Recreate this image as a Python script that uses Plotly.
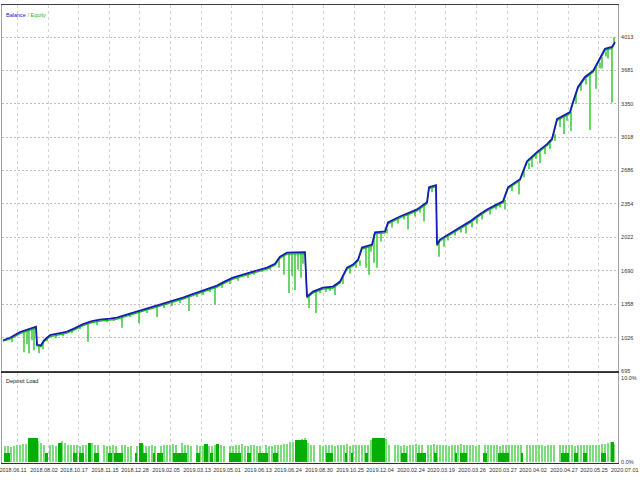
import plotly.graph_objects as go

# Balance curve (x = deal number, y = account value)
bal_deal = [1, 8, 18, 28, 34, 35, 39, 42, 48, 58, 65, 73, 81, 90, 98, 108, 115, 123, 131, 140,
            148, 156, 165, 173, 181, 190, 198, 206, 215, 223, 231, 241, 253, 265, 273, 278, 285, 294, 303, 305,
            311, 321, 331, 338, 343, 345, 351, 356, 360, 370, 373, 383, 386, 398, 408, 415, 425, 427, 434, 435,
            438, 451, 460, 468, 476, 485, 493, 501, 506, 512, 518, 525, 535, 545, 550, 555, 563, 568, 571, 576,
            583, 591, 596, 603, 610, 613]
balance = [1000, 1025, 1080, 1118, 1135, 955, 950, 1000, 1050, 1070, 1085, 1120, 1160, 1190, 1205, 1215, 1225, 1250, 1273, 1300,
           1323, 1350, 1373, 1395, 1423, 1455, 1483, 1513, 1543, 1585, 1622, 1652, 1690, 1722, 1760, 1830, 1870, 1875, 1875, 1433,
           1483, 1523, 1533, 1583, 1690, 1722, 1752, 1800, 1921, 1951, 2071, 2081, 2170, 2230, 2270, 2300, 2370, 2520, 2540, 1951,
           2000, 2081, 2130, 2181, 2240, 2300, 2340, 2380, 2520, 2560, 2600, 2779, 2869, 2948, 3000, 3197, 3240, 3267, 3367, 3516,
           3616, 3676, 3766, 3895, 3915, 3965]
equity = [990, 1010, 1065, 1100, 1120, 945, 935, 985, 1035, 1055, 1070, 1105, 1145, 1175, 1190, 1200, 1210, 1235, 1258, 1285,
          1308, 1335, 1358, 1380, 1408, 1440, 1468, 1498, 1528, 1570, 1607, 1637, 1675, 1707, 1745, 1815, 1855, 1860, 1860, 1420,
          1468, 1508, 1518, 1568, 1675, 1707, 1737, 1785, 1906, 1936, 2056, 2066, 2155, 2215, 2255, 2285, 2355, 2505, 2525, 1936,
          1985, 2066, 2115, 2166, 2225, 2285, 2325, 2365, 2505, 2545, 2585, 2764, 2854, 2933, 2985, 3182, 3225, 3252, 3352, 3501,
          3601, 3661, 3751, 3880, 3900, 3950]

# equity drawdown needles: deal, value before, value at the extreme
dip_deal = [10, 22, 25, 27, 30, 32, 37, 41, 45, 54, 61, 86, 95, 120, 137, 155, 170, 187, 201, 213,
            236, 260, 277, 282, 287, 290, 293, 296, 299, 301, 307, 314, 324, 333, 341, 348, 354, 364, 367, 369,
            372, 375, 379, 390, 396, 406, 413, 422, 430, 437, 442, 453, 464, 480, 488, 503, 510, 517, 522, 530,
            538, 548, 558, 562, 569, 574, 579, 588, 594, 600, 606, 610, 612]
dip_from = [1030, 1090, 1100, 1108, 1115, 1122, 948, 985, 1030, 1062, 1075, 1175, 1195, 1240, 1285, 1340, 1385, 1445, 1495, 1535,
            1635, 1705, 1805, 1855, 1865, 1865, 1868, 1868, 1868, 1868, 1450, 1495, 1520, 1555, 1640, 1735, 1785, 1930, 1935, 1940,
            2055, 2070, 2072, 2185, 2220, 2260, 2290, 2355, 2520, 1975, 2010, 2085, 2140, 2255, 2315, 2395, 2545, 2590, 2690, 2815,
            2885, 2985, 3205, 3225, 3270, 3440, 3555, 3645, 3715, 3815, 3895, 3910, 3960]
dip_to = [980, 880, 960, 870, 1000, 900, 870, 910, 990, 1020, 1040, 985, 1150, 1125, 1170, 1230, 1340, 1290, 1450, 1355,
          1590, 1680, 1720, 1650, 1470, 1640, 1500, 1700, 1620, 1760, 1320, 1270, 1480, 1450, 1560, 1660, 1720, 1720, 1650, 1880,
          1770, 1720, 1980, 2120, 2160, 2100, 2230, 2180, 2470, 1830, 1930, 2040, 2060, 2200, 2250, 2300, 2480, 2450, 2620, 2720,
          2760, 2900, 3120, 3050, 3080, 3350, 3480, 3090, 3500, 3700, 3800, 3360, 4010]
# smaller equity dips
minor_deal = [70, 78, 105, 112, 128, 145, 162, 178, 195, 208, 220, 228, 246, 252, 268, 318, 328, 358, 385, 402,
              418, 446, 459, 470, 475, 494, 498, 527, 534, 543, 553, 565, 584, 598, 604]
minor_from = [1105, 1140, 1212, 1218, 1262, 1310, 1365, 1405, 1470, 1520, 1570, 1605, 1665, 1688, 1740, 1510, 1530, 1795, 2110, 2240,
              2320, 2030, 2110, 2175, 2210, 2345, 2360, 2760, 2850, 2920, 3050, 3240, 3600, 3760, 3870]
minor_to = [1070, 1110, 1180, 1190, 1230, 1270, 1320, 1370, 1430, 1480, 1520, 1560, 1620, 1650, 1700, 1470, 1490, 1740, 2060, 2200,
            2270, 1990, 2070, 2120, 2160, 2300, 2320, 2700, 2800, 2850, 2980, 3180, 3540, 3700, 3820]

# deposit load (%) - thin bars every 3 deals
load_step = 3
load = [1.9, 1.9, 1.8, 1.9, 2.0, 2.0, 2.1, 2.1, 2.8, 2.9, 2.7, 2.5, 2.3, 2.0, 0, 2.0, 2.0,
        1.9, 0, 2.5, 2.3, 2.0, 2.0, 2.0, 2.0, 1.9, 2.0, 2.0, 2.1, 2.3, 2.0, 2.0, 0, 2.0,
        1.9, 1.9, 2.0, 1.9, 0, 2.0, 2.0, 1.8, 1.9, 0, 1.9, 2.0, 2.0, 1.9, 1.9, 2.0, 1.9,
        0, 1.9, 2.0, 2.0, 2.0, 2.1, 2.0, 0, 2.3, 2.0, 2.0, 1.9, 0, 2.0, 1.9, 1.9, 2.0,
        1.9, 1.9, 2.0, 2.0, 2.0, 1.9, 0, 1.9, 1.9, 2.0, 2.0, 2.2, 1.9, 1.9, 2.0, 2.0, 1.9,
        1.9, 0, 2.0, 1.9, 1.9, 2.0, 2.0, 2.0, 2.1, 2.2, 2.4, 2.4, 2.5, 2.6, 2.7, 2.8, 2.3,
        2.0, 2.0, 0, 2.0, 1.9, 2.0, 2.0, 2.0, 1.9, 2.0, 2.0, 2.0, 2.1, 1.9, 2.0, 2.0, 2.0,
        2.0, 2.0, 2.0, 2.6, 2.7, 2.8, 2.7, 2.8, 2.7, 2.0, 0, 2.0, 2.0, 1.9, 2.0, 1.9, 2.0,
        2.0, 2.1, 2.0, 2.0, 0, 2.0, 2.0, 2.1, 2.0, 2.0, 2.0, 2.0, 1.9, 2.0, 2.0, 2.0, 2.1,
        2.0, 2.0, 2.0, 2.0, 1.9, 2.0, 0, 2.0, 2.0, 2.0, 2.0, 2.0, 1.9, 2.0, 2.0, 2.0, 2.0,
        2.0, 2.0, 2.0, 0, 2.0, 2.0, 2.0, 2.0, 2.0, 2.0, 1.9, 2.0, 2.0, 2.0, 0, 2.0, 2.0,
        2.0, 2.0, 2.0, 1.9, 2.0, 2.0, 2.0, 2.0, 2.0, 2.0, 2.0, 2.0, 2.1, 2.2, 2.3, 2.4, 2.2]
# dark filled load blocks
dark_start = [2, 26, 43, 56, 71, 77, 86, 92, 106, 112, 133, 137, 141, 151, 155, 171, 194, 202, 208, 214, 227, 245,
              256, 271, 293, 324, 343, 349, 363, 370, 399, 415, 432, 453, 458, 481, 496, 519, 559, 572, 581, 599, 609]
dark_end = [8, 36, 46, 60, 75, 82, 89, 97, 110, 121, 135, 141, 145, 153, 161, 185, 198, 206, 211, 217, 239, 249,
            266, 276, 305, 331, 345, 351, 366, 383, 405, 424, 435, 455, 465, 485, 507, 521, 567, 576, 585, 604, 612]
dark_load = [1.1, 2.8, 1.1, 2.3, 1.1, 1.1, 2.3, 1.1, 1.1, 1.1, 1.1, 2.3, 1.1, 1.1, 1.1, 1.1, 1.1, 2.2, 1.1, 2.2, 1.1, 1.1,
             1.1, 1.1, 2.6, 1.1, 1.1, 1.1, 1.1, 2.8, 1.1, 1.1, 1.1, 1.1, 1.1, 1.1, 1.1, 1.1, 1.1, 1.1, 1.1, 1.1, 2.4]

tick_deals = [15, 46, 76, 107, 137, 168, 199, 229, 260, 290, 321, 352, 382, 413, 443, 474, 505, 535, 566, 596]
tick_dates = ["2018.06.11", "2018.08.02", "2018.10.17", "2018.11.15", "2018.12.28", "2019.02.05", "2019.03.13",
              "2019.05.01", "2019.06.13", "2019.06.24", "2019.08.30", "2019.10.25", "2019.12.04", "2020.02.24",
              "2020.03.19", "2020.03.26", "2020.03.27", "2020.04.02", "2020.04.27", "2020.05.25"]
last_tick_deal = 627
last_tick_date = "2020.07.01"
y_ticks = [695, 1026, 1358, 1690, 2022, 2354, 2686, 3018, 3350, 3681, 4013]

X_MAX = 616
BLUE = "#1a1ab4"
GREEN = "#16c016"
FONT = "Liberation Sans, Arial, sans-serif"

fig = go.Figure()

# needles built from the dip lists
nx, ny = [], []
for d, a, b in zip(dip_deal + minor_deal, dip_from + minor_from, dip_to + minor_to):
    nx += [d, d, None]
    ny += [a, b, None]

fig.add_trace(go.Scatter(x=nx, y=ny, mode="lines", line=dict(color=GREEN, width=1.3),
                         xaxis="x", yaxis="y", hoverinfo="skip"))
fig.add_trace(go.Scatter(x=bal_deal, y=equity, mode="lines", line=dict(color=GREEN, width=1.2),
                         name="Equity", xaxis="x", yaxis="y"))
fig.add_trace(go.Scatter(x=bal_deal, y=balance, mode="lines", line=dict(color=BLUE, width=1.8),
                         name="Balance", xaxis="x", yaxis="y"))

load_deal = [load_step * (i + 1) for i in range(len(load))]
fig.add_trace(go.Bar(x=load_deal, y=load, width=1.1, marker=dict(color="#7cdc7c", line_width=0),
                     xaxis="x2", yaxis="y2"))
fig.add_trace(go.Bar(x=[(s + e) / 2 for s, e in zip(dark_start, dark_end)], y=dark_load,
                     width=[e - s for s, e in zip(dark_start, dark_end)],
                     marker=dict(color="#04ae04", line_width=0), xaxis="x2", yaxis="y2"))

tickfont = dict(family=FONT, size=5.5, color="#333333")
vgrid = dict(showgrid=True, gridcolor="#d4d4d4", griddash="3px,3px", gridwidth=1, zeroline=False)

fig.update_layout(
    width=640, height=480,
    margin=dict(l=2, r=22, t=5, b=17, autoexpand=False),
    paper_bgcolor="white", plot_bgcolor="white",
    showlegend=False, barmode="overlay", bargap=0,
    xaxis=dict(domain=[0, 1], range=[0, X_MAX], anchor="y", tickvals=tick_deals, showticklabels=False,
               automargin=False, **vgrid,
               showline=True, mirror=True, linecolor="#404040", linewidth=1, ticks=""),
    yaxis=dict(domain=[0.2009, 1], range=[694.5, 4331], side="right", anchor="x", automargin=False,
               tickvals=y_ticks, ticktext=[str(v) for v in y_ticks], tickfont=tickfont,
               showgrid=True, gridcolor="#c0c0c0", griddash="2px,2px", gridwidth=1, zeroline=False,
               showline=True, mirror=True, linecolor="#a0a0a0", linewidth=1, ticks="", ticklabelstandoff=1),
    xaxis2=dict(domain=[0, 1], range=[0, X_MAX], anchor="y2", tickvals=tick_deals, ticktext=tick_dates,
                tickfont=tickfont, ticklabelshift=-4, tickangle=0, ticklabelstandoff=1, automargin=False,
                ticklabeloverflow="allow", **vgrid,
                showline=True, mirror=True, linecolor="#303030", linewidth=1, ticks=""),
    yaxis2=dict(domain=[0, 0.1965], range=[-0.12, 10.6], side="right", anchor="x2", automargin=False,
                tickvals=[0, 10], ticktext=["0.0%", "10.0%"], tickfont=tickfont,
                showgrid=False, zeroline=False, ticklabelstandoff=1,
                showline=True, mirror=True, linecolor="#a0a0a0", linewidth=1, ticks=""),
    annotations=[
        dict(xref="paper", yref="paper", x=0.003, y=0.99, xanchor="left", yanchor="top", showarrow=False,
             text='<span style="color:#2020c8">Balance</span><span style="color:#909090"> / </span>'
                  '<span style="color:#22b822">Equity</span>',
             font=dict(family=FONT, size=5.5)),
        dict(xref="paper", yref="paper", x=0.003, y=0.19, xanchor="left", yanchor="top", showarrow=False,
             text="Deposit Load", font=dict(family=FONT, size=5.5, color="#222222")),
        # last date label sits beyond the right edge of the deal axis
        dict(xref="paper", yref="paper", x=(last_tick_deal - 4) / X_MAX, y=-0.004, xanchor="center",
             yanchor="top", showarrow=False, text=last_tick_date, font=tickfont),
    ],
)

# drop the browser's default 8px body margin so the figure fills the window
fig.write_html("out.html", config={"displayModeBar": False},
               post_script="document.body.style.margin='0px';")
